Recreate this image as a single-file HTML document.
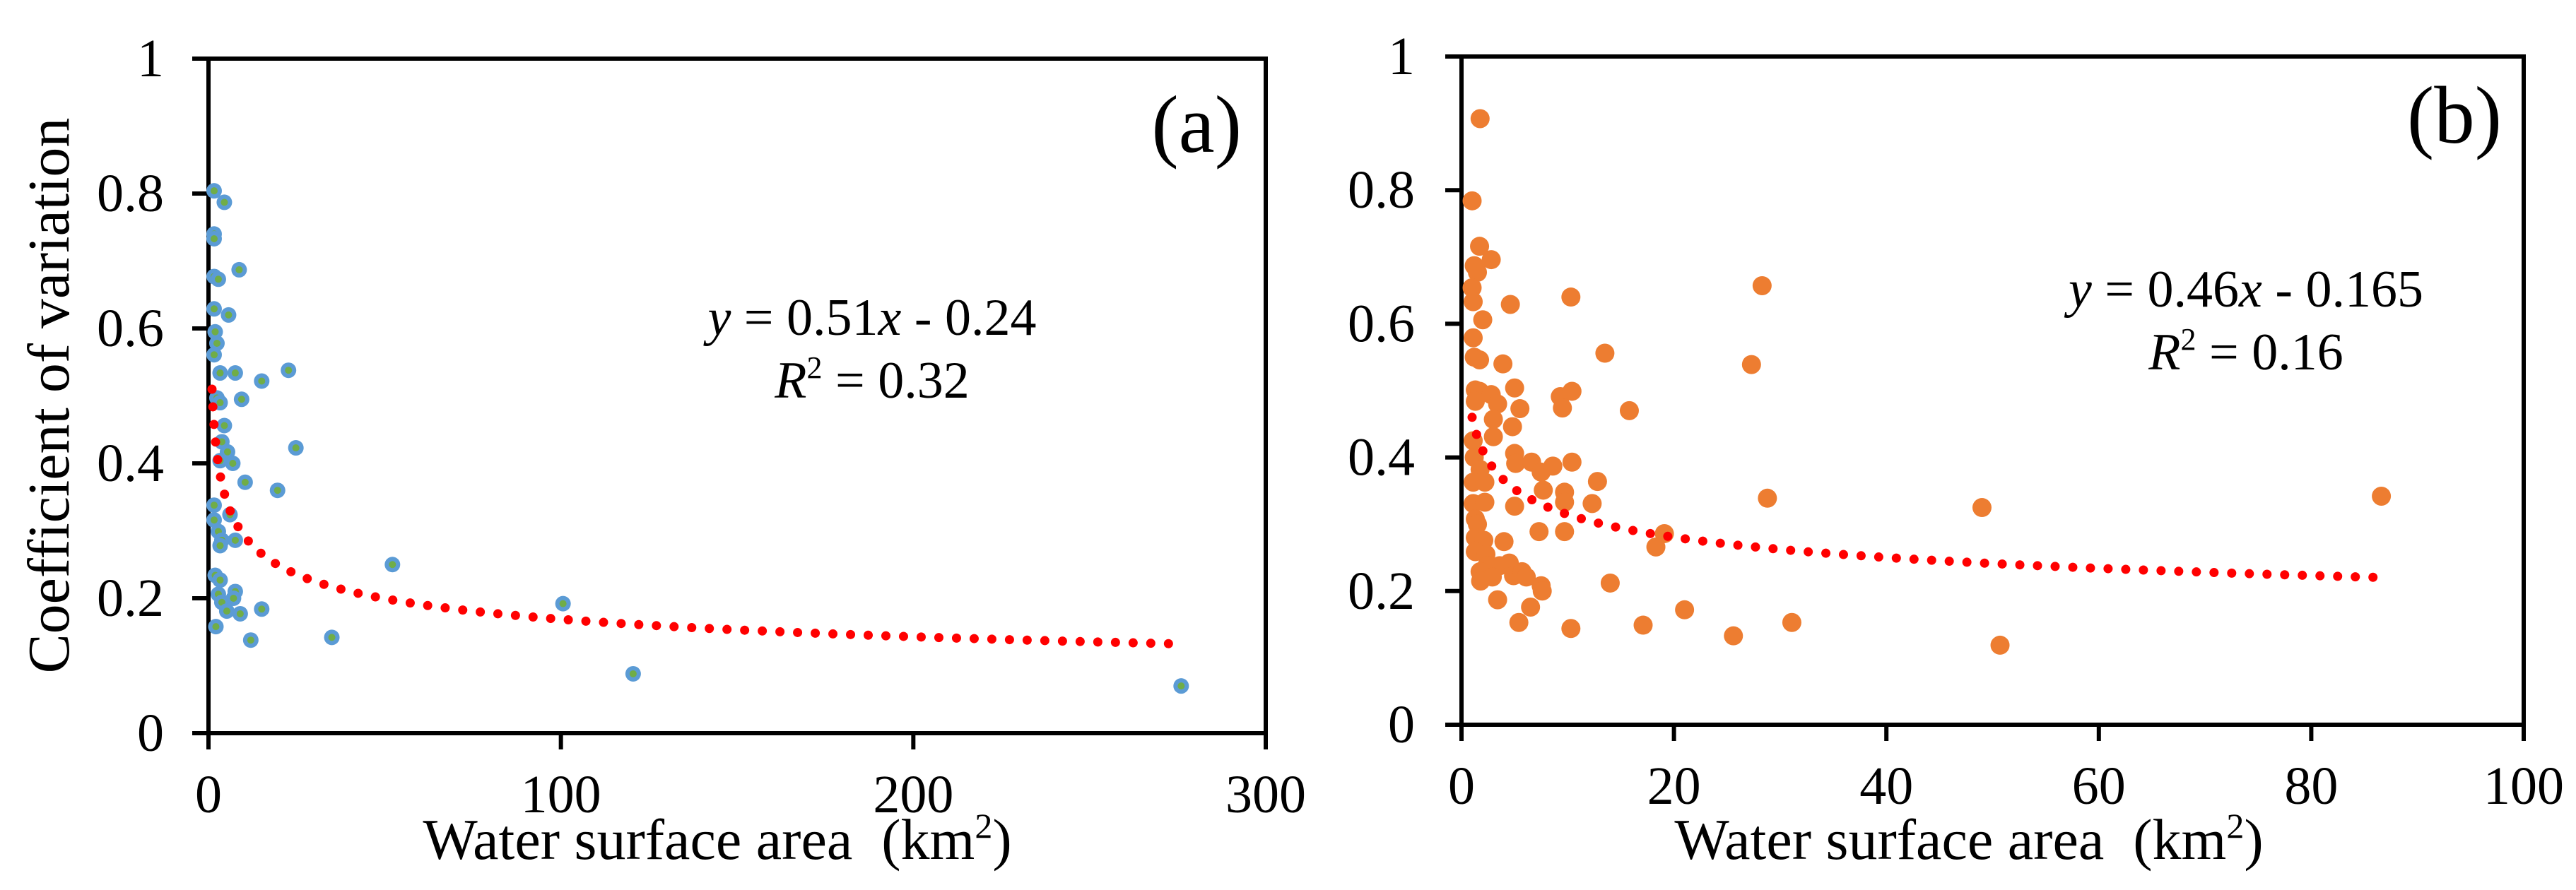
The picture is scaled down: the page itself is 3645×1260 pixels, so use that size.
<!DOCTYPE html>
<html><head><meta charset="utf-8"><style>
html,body{margin:0;padding:0;background:#fff}
svg{display:block}
text{font-family:"Liberation Serif",serif;fill:#000}
</style></head><body>
<svg id="chart" width="3645" height="1260" viewBox="0 0 3645 1260" xmlns="http://www.w3.org/2000/svg">
<g id="pa"></g>
<g id="pb"></g>
</svg>
<script>
// Panel (a) data
const aX = [1.6,4.5,1.6,1.6,1.6,2.8,8.7,1.6,5.7,1.9,2.4,1.6,3.3,7.6,15.1,22.7,2.4,3.3,9.4,4.5,3.8,5.4,3.3,6.9,24.8,10.4,19.6,1.6,1.6,6.1,2.8,3.8,3.3,7.6,52.2,1.9,3.3,2.8,3.8,7.6,7.1,5.2,9,15.1,2.1,12,35,100.6,120.5,276];
const aY = [0.804,0.787,0.74,0.733,0.677,0.673,0.687,0.629,0.62,0.595,0.578,0.561,0.534,0.534,0.522,0.538,0.497,0.49,0.495,0.456,0.432,0.417,0.404,0.40,0.423,0.372,0.36,0.338,0.316,0.324,0.299,0.286,0.278,0.286,0.25,0.234,0.227,0.206,0.194,0.21,0.2,0.181,0.177,0.184,0.158,0.138,0.142,0.192,0.088,0.07];
const aFit = [0.51, -0.24, 1, 276];
const aXTicks = [0,100,200,300];
// Panel (b) data
const bX = [1.75,1.0,1.7,2.8,1.2,1.5,1.0,1.1,2.0,4.6,10.3,28.3,1.1,1.2,1.7,3.9,13.5,27.3,1.3,1.7,2.8,5.0,1.3,3.4,5.5,9.3,9.5,10.4,15.8,3.0,4.8,3.0,1.1,1.2,5.0,5.1,6.6,7.5,8.6,10.4,1.75,1.1,2.2,7.7,9.7,12.8,1.1,2.2,5.0,9.7,12.3,28.8,49,86.6,1.3,1.5,7.3,9.7,19.1,1.3,2.1,4.0,18.3,1.3,2.3,2.4,3.6,4.5,1.75,2.9,1.8,4.9,5.7,6.1,7.5,7.6,3.4,6.5,14,5.4,10.3,17.1,21,25.6,31.1,50.7];
const bY = [0.907,0.784,0.716,0.696,0.687,0.677,0.654,0.633,0.606,0.629,0.64,0.657,0.579,0.55,0.546,0.54,0.556,0.539,0.501,0.499,0.494,0.504,0.484,0.48,0.473,0.491,0.474,0.499,0.47,0.457,0.446,0.431,0.425,0.4,0.406,0.391,0.393,0.378,0.387,0.393,0.382,0.363,0.363,0.351,0.348,0.364,0.331,0.333,0.327,0.333,0.331,0.339,0.325,0.342,0.308,0.3,0.289,0.289,0.286,0.28,0.276,0.274,0.266,0.259,0.255,0.238,0.238,0.242,0.229,0.221,0.215,0.223,0.229,0.221,0.208,0.2,0.187,0.176,0.212,0.153,0.144,0.149,0.172,0.133,0.153,0.119];
const bFit = [0.46, -0.165, 1, 86];
const bXTicks = [0,20,40,60,80,100];
const yTicks = [0,0.2,0.4,0.6,0.8,1];
const yTickLabels = ["0","0.2","0.4","0.6","0.8","1"];

const NS = "http://www.w3.org/2000/svg";
function mk(parent, tag, attrs, txt){
  const e = document.createElementNS(NS, tag);
  for (const k in attrs) e.setAttribute(k, attrs[k]);
  if (txt !== undefined) e.textContent = txt;
  parent.appendChild(e);
  return e;
}

function panel(g, cfg){
  const sx = v => cfg.x0 + (v - 0) / cfg.xmax * (cfg.x1 - cfg.x0);
  const sy = v => cfg.y0 - v * (cfg.y0 - cfg.y1);
  const fr = mk(g, "rect", {x:cfg.x0, y:cfg.y1, width:cfg.x1-cfg.x0, height:cfg.y0-cfg.y1, fill:"none", stroke:"#000", "stroke-width":6});
  
  
  yTicks.forEach((t,i)=>{
    const ln = mk(g, "line", {x1:cfg.x0-23, x2:cfg.x0, y1:sy(t), y2:sy(t), stroke:"#000", "stroke-width":6});
    
    
    const tx = mk(g, "text", {x:cfg.ylabX, y:sy(t)+25, "text-anchor":"end", "font-size":76}, yTickLabels[i]);
    
    
  });
  cfg.xt.forEach(t=>{
    const ln = mk(g, "line", {x1:sx(t), x2:sx(t), y1:cfg.y0, y2:cfg.y0+23, stroke:"#000", "stroke-width":6});
    
    
    const tx = mk(g, "text", {x:sx(t), y:cfg.y0+112, "text-anchor":"middle", "font-size":76}, String(t));
    
    
  });
  cfg.px.forEach((v,i)=>{
    const c = mk(g, "circle", {cx:sx(v), cy:sy(cfg.py[i]), r:cfg.r, fill:cfg.color});
    
    
    if (cfg.inner) {
      const d = mk(g, "circle", {cx:sx(v), cy:sy(cfg.py[i]), r:5, fill:cfg.inner});
      
      
    }
  });
  const [a,b,xs,xe] = cfg.fit;
  let d = "";
  for (let k=0;k<=400;k++){
    const x = xs * Math.pow(xe/xs, k/400);
    d += (k?"L":"M") + sx(x).toFixed(1) + "," + sy(a*Math.pow(x,b)).toFixed(1);
  }
  const tl = mk(g, "path", {d:d, fill:"none", stroke:"#ff0000", "stroke-width":13, "stroke-linecap":"round", "stroke-dasharray":"0 25"});
  
  
  const pl = mk(g, "text", {x:cfg.tagX, y:cfg.tagY, "text-anchor":"end", "font-size":115}, cfg.tag);
  
  
  const e1 = mk(g, "text", {x:cfg.eqX, y:cfg.eqY, "text-anchor":"middle", "font-size":74});
  
  
  e1.innerHTML = '<tspan font-style="italic">y</tspan> = ' + cfg.eq1 + '<tspan font-style="italic">x</tspan> - ' + cfg.eq2;
  const e2 = mk(g, "text", {x:cfg.eqX, y:cfg.eqY+89, "text-anchor":"middle", "font-size":74});
  
  
  e2.innerHTML = '<tspan font-style="italic">R</tspan><tspan font-size="44" dy="-28">2</tspan><tspan dy="28"> = ' + cfg.r2 + '</tspan>';
  const xt = mk(g, "text", {x:cfg.xtX, y:1216, "text-anchor":"middle", "font-size":82});
  
  
  xt.innerHTML = 'Water surface area\u00a0\u00a0(km<tspan font-size="50" dy="-30">2</tspan><tspan dy="30">)</tspan>';
}

panel(document.getElementById("pa"), {x0:295,x1:1791,y0:1038,y1:83,xmax:300,xt:aXTicks,px:aX,py:aY,color:"#5b9bd5",inner:"#70ad47",r:11,fit:aFit,ylabX:232,tag:"(a)",tagX:1757,tagY:215,eqX:1234,eqY:474,eq1:"0.51",eq2:"0.24",r2:"0.32",xtX:1015});
panel(document.getElementById("pb"), {x0:2068,x1:3571,y0:1026,y1:80,xmax:100,xt:bXTicks,px:bX,py:bY,color:"#ed7d31",inner:null,r:13.5,fit:bFit,ylabX:2002,tag:"(b)",tagX:3540,tagY:202,eqX:3178,eqY:434,eq1:"0.46",eq2:"0.165",r2:"0.16",xtX:2786});

const yt = mk(document.getElementById("pa"), "text", {x:0, y:0, "text-anchor":"middle", "font-size":84, transform:"translate(97,560) rotate(-90)"}, "Coefficient of variation");


</script>
</body></html>
